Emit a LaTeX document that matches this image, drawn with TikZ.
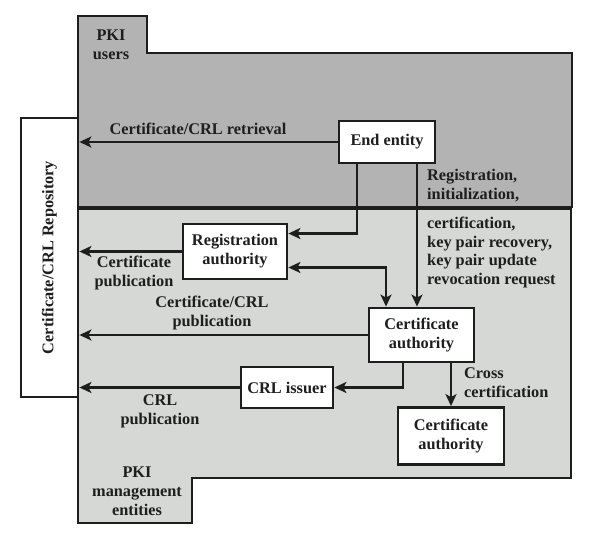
\documentclass[tikz,border=0pt]{standalone}
\usepackage{fontspec}
\setmainfont{Liberation Serif}
\usetikzlibrary{arrows.meta}
\definecolor{usersgray}{RGB}{179,179,179}
\definecolor{mgmtgray}{RGB}{214,216,213}
\definecolor{ink}{RGB}{30,30,30}
\newcommand\lblfont{\bfseries\fontsize{16.3}{19}\selectfont}
\begin{document}
\begin{tikzpicture}[x=1pt,y=-1pt,
  region/.style={draw=ink, line width=2.8pt, line join=miter},
  box/.style={draw=ink, line width=2.8pt, fill=white, inner sep=0pt, align=center, font=\lblfont, text=ink},
  lbl/.style={inner sep=0pt, align=center, font=\lblfont, text=ink},
  lbll/.style={inner sep=0pt, align=left, font=\lblfont, anchor=west, text=ink},
  arr/.style={draw=ink, line width=2.2pt, line join=miter, -{Stealth[length=12pt,width=11pt,inset=3pt]}},
  darr/.style={draw=ink, line width=2.2pt, line join=miter, {Stealth[length=12pt,width=11pt,inset=3pt]}-{Stealth[length=12pt,width=11pt,inset=3pt]}}
]
\useasboundingbox (0,0) rectangle (598,534);
% regions
\draw[region, fill=usersgray] (78,16) -- (147,16) -- (147,53) -- (572,53) -- (572,207) -- (78,207) -- cycle;
\draw[region, fill=mgmtgray] (78,209) -- (571,209) -- (571,478) -- (192,478) -- (192,523) -- (78,523) -- cycle;
% repository
\node[box, minimum width=57pt, minimum height=279pt] (repo) at (49.5,257.5) {};
\node[lbl, rotate=90] (repotxt) at (repo.center) {Certificate/CRL Repository};
% boxes
\node[box, minimum width=96pt, minimum height=42pt] (ee) at (387,142) {End entity};
\node[box, minimum width=104pt, minimum height=55pt] (ra) at (235,251.5) {Registration\\authority};
\node[box, minimum width=105pt, minimum height=54pt] (ca) at (421.5,335) {Certificate\\authority};
\node[box, minimum width=92pt, minimum height=41pt] (crl) at (287,387.5) {CRL issuer};
\node[box, minimum width=106pt, minimum height=57pt] (ca2) at (451,436) {Certificate\\authority};
% labels
\node[lbl] (lusers) at (111,45) {PKI\\users};
\node[lbl] (lretr) at (198,129) {Certificate/CRL retrieval};
\node[lbll] (lreg1) at (427,185.5) {Registration,\\initialization,};
\node[lbll] (lreg2) at (427,252.5) {certification,\\key pair recovery,\\key pair update\\revocation request};
\node[lbl] (lcpub) at (134,273) {Certificate\\publication};
\node[lbl] (lccpub) at (212,313) {Certificate/CRL\\publication};
\node[lbl] (lcrlpub) at (160,411) {CRL\\publication};
\node[lbll] (lcross) at (464,383) {Cross\\certification};
\node[lbl] (lmgmt) at (137,491) {PKI\\management\\entities};
% connectors
\draw[arr] (ee.west) -- (ee.west -| repo.east);
\draw[arr] ([xshift=-30pt]ee.south) |- ([yshift=18pt]ra.east);
\draw[arr] ([xshift=30pt]ee.south) -- ([xshift=30pt]ee.south |- ca.north);
\draw[darr] ([yshift=-16pt]ra.east) -| ([xshift=-35.5pt]ca.north);
\draw[arr] (ra.west) -- (ra.west -| repo.east);
\draw[arr] (ca.west) -- (ca.west -| repo.east);
\draw[arr] ([xshift=-18.5pt]ca.south) |- (crl.east);
\draw[arr] (ca.south -| ca2.north) -- (ca2.north);
\draw[arr] (crl.west) -- (crl.west -| repo.east);
\end{tikzpicture}
\end{document}
